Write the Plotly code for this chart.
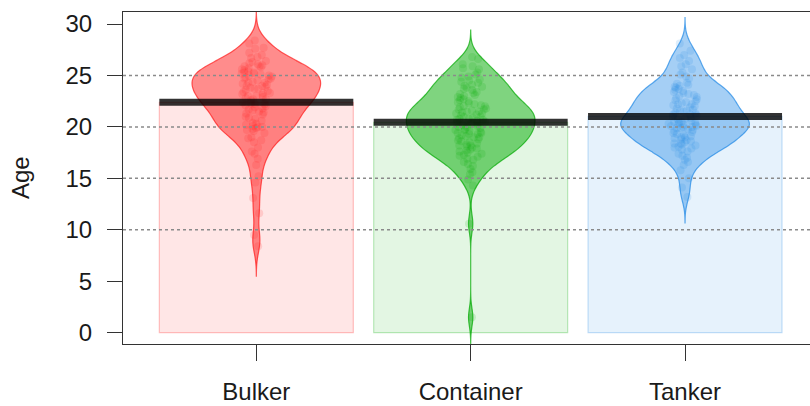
import numpy as np
import plotly.graph_objects as go

# Ship ages by vessel type
categories = ["Bulker", "Container", "Tanker"]

bulker_age = [
    8.4, 9.5, 11.6, 13.1, 14.6, 15.2, 16.3,
    16.9, 17.4,
    17.6, 18.0, 18.5,
    18.7, 18.9, 19.0, 19.4, 19.6,
    19.7, 19.8, 19.9, 20.0, 20.0, 20.1, 20.2, 20.3, 20.4,
    20.6, 20.8, 20.9, 21.0, 21.2, 21.3, 21.4, 21.5,
    21.6, 21.7, 21.8, 21.9, 22.0, 22.1, 22.2, 22.2, 22.3, 22.4,
    22.6, 22.7, 22.7, 22.8, 22.9, 23.0, 23.0, 23.1, 23.2, 23.3, 23.3, 23.4, 23.5,
    23.6, 23.7, 23.7, 23.8, 23.9, 24.0, 24.0, 24.1, 24.2, 24.3, 24.3, 24.4, 24.5,
    24.6, 24.7, 24.7, 24.8, 24.9, 25.0, 25.0, 25.1, 25.2, 25.2, 25.3, 25.3, 25.4, 25.5,
    25.6, 25.7, 25.8, 25.9, 25.9, 26.0, 26.1, 26.2, 26.3, 26.4,
    26.7, 26.8, 27.0, 27.2, 27.6,
    27.7, 28.1, 28.4,
]

container_age = [
    1.5, 10.6, 14.3,
    14.9, 15.4,
    15.6, 15.9, 16.2, 16.4,
    16.6, 16.8, 16.9, 17.1, 17.2, 17.3, 17.4, 17.5,
    17.6, 17.7, 17.8, 17.9, 18.0, 18.1, 18.2, 18.2, 18.3, 18.4, 18.5,
    18.6, 18.7, 18.8, 18.9, 19.0, 19.0, 19.1, 19.2, 19.3, 19.3, 19.4, 19.4, 19.5,
    19.6, 19.7, 19.7, 19.8, 19.9, 20.0, 20.0, 20.1, 20.2, 20.3, 20.3, 20.4, 20.5,
    20.6, 20.7, 20.7, 20.8, 20.8, 20.9, 21.0, 21.0, 21.1, 21.2, 21.3, 21.3, 21.4,
    21.5, 21.5,
    21.6, 21.7, 21.7, 21.8, 21.9, 22.0, 22.0, 22.1, 22.2, 22.3, 22.4, 22.5,
    22.6, 22.7, 22.8, 22.9, 23.0, 23.1, 23.2, 23.3, 23.4,
    23.6, 23.7, 23.8, 23.9, 24.0, 24.1, 24.3, 24.4, 24.5,
    24.6, 24.8, 24.9, 25.1, 25.3, 25.6,
    25.7, 25.9, 26.1, 26.6,
    26.8,
]

tanker_age = [
    13.2, 14.1, 15.0,
    15.8, 16.3,
    16.6, 16.8, 17.0, 17.2, 17.4,
    17.6, 17.8, 17.9, 18.0, 18.1, 18.2, 18.3, 18.4, 18.4, 18.5,
    18.6, 18.7, 18.8, 18.9, 19.0, 19.0, 19.1, 19.2, 19.3, 19.4, 19.5, 19.6, 19.7,
    19.8, 19.9, 19.9, 20.0, 20.0, 20.1, 20.1, 20.2, 20.2, 20.3, 20.3,
    20.4, 20.4, 20.5, 20.5, 20.6,
    20.7, 20.8, 20.9, 21.0, 21.1, 21.2, 21.2, 21.3, 21.4, 21.5, 21.6, 21.6,
    21.7, 21.8, 21.9, 22.0, 22.1, 22.2, 22.2, 22.3, 22.4, 22.5, 22.6, 22.7,
    22.8, 22.9, 23.0, 23.1, 23.2, 23.3, 23.4, 23.5, 23.6, 23.7,
    23.8, 23.9, 24.0, 24.1, 24.2, 24.3, 24.7,
    24.9, 25.1, 25.3, 25.6, 25.9,
    26.1, 26.4, 26.7,
    27.0, 27.4,
    28.1,
]

y_ticks = [0, 5, 10, 15, 20, 25, 30]
grid_levels = [10, 15, 20, 25]

groups = [bulker_age, container_age, tanker_age]
base_rgb = [(255, 25, 25), (0, 170, 0), (30, 136, 229)]
violin_alpha = [0.5, 0.5, 0.4]

BAR_W = 0.905
BEAN_W = 0.60
BW_ADJ = 0.8
FONT = "Liberation Sans, Arial, sans-serif"


def rgba(c, a):
    return f"rgba({c[0]},{c[1]},{c[2]},{a})"


def nrd0(v):
    v = np.asarray(v, float)
    q75, q25 = np.percentile(v, [75, 25])
    s = min(v.std(ddof=1), (q75 - q25) / 1.34)
    return 0.9 * s * len(v) ** -0.2


fig = go.Figure()
positions = [1, 2, 3]
means = [float(np.mean(g)) for g in groups]

# Bars showing group means
fig.add_trace(go.Bar(
    x=positions, y=means, width=BAR_W,
    marker=dict(color=[rgba(c, 0.11) for c in base_rgb],
                line=dict(color=[rgba(c, 0.25) for c in base_rgb], width=1.2)),
    hoverinfo="skip", showlegend=False,
))

# Density beans with jittered raw points
for pos, vals, c, va in zip(positions, groups, base_rgb, violin_alpha):
    bw = nrd0(vals) * BW_ADJ
    fig.add_trace(go.Violin(
        x0=pos, y=vals, width=BEAN_W, scalemode="width",
        bandwidth=bw, spanmode="manual",
        span=[min(vals) - 3 * bw, max(vals) + 3 * bw],
        fillcolor=rgba(c, va), line=dict(color=rgba(c, 0.7), width=1.2),
        points="all", pointpos=0, jitter=0.26,
        marker=dict(color=rgba(c, 0.14), size=8, line=dict(width=0)),
        hoverinfo="skip", showlegend=False,
    ))

# Mean lines across each bar
for pos, m in zip(positions, means):
    fig.add_trace(go.Scatter(
        x=[pos - BAR_W / 2, pos + BAR_W / 2], y=[m, m], mode="lines",
        line=dict(color="rgba(0,0,0,0.8)", width=7),
        hoverinfo="skip", showlegend=False,
    ))

shapes = [
    dict(type="line", xref="paper", x0=0, x1=1, yref="y", y0=g, y1=g,
         line=dict(color="#8a8a8a", width=1.5, dash="dot"), layer="above")
    for g in grid_levels
]

fig.update_layout(
    width=810, height=406,
    margin=dict(l=123, r=0, t=12, b=62),
    paper_bgcolor="white", plot_bgcolor="white",
    violinmode="overlay", barmode="overlay",
    font=dict(family=FONT, size=24, color="#1a1a1a"),
    shapes=shapes,
    xaxis=dict(
        range=[0.378, 3.583], tickvals=positions, ticktext=categories,
        showgrid=False, zeroline=False,
        showline=True, mirror=True, linecolor="#333", linewidth=1.2,
        ticks="outside", ticklen=16, tickwidth=1.2, tickcolor="#333",
        ticklabelstandoff=10,
        tickfont=dict(family=FONT, size=24, color="#1a1a1a"),
    ),
    yaxis=dict(
        range=[-1.10, 31.17], tickvals=y_ticks,
        showgrid=False, zeroline=False,
        showline=True, linecolor="#333", linewidth=1.2,
        ticks="outside", ticklen=15, tickwidth=1.2, tickcolor="#333",
        ticklabelstandoff=10,
        tickfont=dict(family=FONT, size=24, color="#1a1a1a"),
    ),
    annotations=[dict(
        text="Age", xref="paper", yref="paper", x=0, y=0.5,
        xshift=-103, xanchor="center", yanchor="middle",
        textangle=-90, showarrow=False,
        font=dict(family=FONT, size=24, color="#1a1a1a"),
    )],
)

fig.write_html("out.html")
